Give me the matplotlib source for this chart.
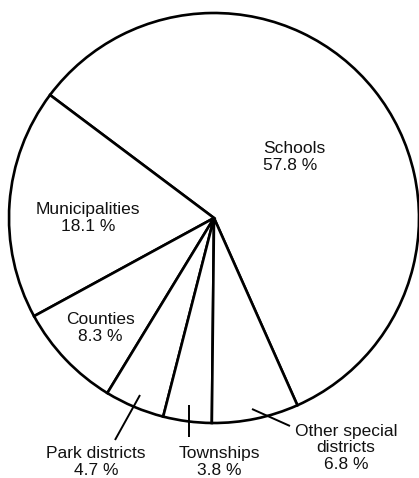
import matplotlib
matplotlib.use("Agg")
import matplotlib.pyplot as plt

categories = ["Schools", "Municipalities", "Counties", "Park districts", "Townships", "Other special\ndistricts"]
shares = [57.8, 18.1, 8.3, 4.7, 3.8, 6.8]

W, H = 419, 478
fig = plt.figure(figsize=(W / 100, H / 100), dpi=100)
ax = fig.add_axes([0, 0, 1, 1])

def Y(y):
    return H - y

cx, cy, r = 214, Y(218), 205
ax.pie(shares, startangle=-66, counterclock=True, center=(cx, cy), radius=r,
       wedgeprops=dict(facecolor="white", edgecolor="black", linewidth=1.9))
ax.set_xlim(0, W)
ax.set_ylim(0, H)
ax.set_aspect("equal")
ax.axis("off")

font = dict(family=["Liberation Sans", "DejaVu Sans"], fontsize=12.5, color="#111111")
labels = [f"{c}\n{v} %" for c, v in zip(categories, shares)]
# label placement (x, y_center in image pixels, alignment)
pos = [
    (263, 157, "left"),
    (88, 218, "center"),
    (100, 328, "center"),
    (96, 462, "center"),
    (219, 462, "center"),
    (346, 448, "center"),
]
for lab, (x, y, ha) in zip(labels, pos):
    ax.text(x, Y(y), lab, ha=ha, va="center", multialignment="center" if ha == "center" else "left",
            linespacing=1.12, **font)

# leader lines
for (x0, y0), (x1, y1) in [((140, 395), (115, 440)), ((189, 405), (189, 437)), ((252, 409), (290, 426))]:
    ax.plot([x0, x1], [Y(y0), Y(y1)], color="black", lw=1.4, solid_capstyle="butt")

fig.savefig("out.png", dpi=100, facecolor="white")
